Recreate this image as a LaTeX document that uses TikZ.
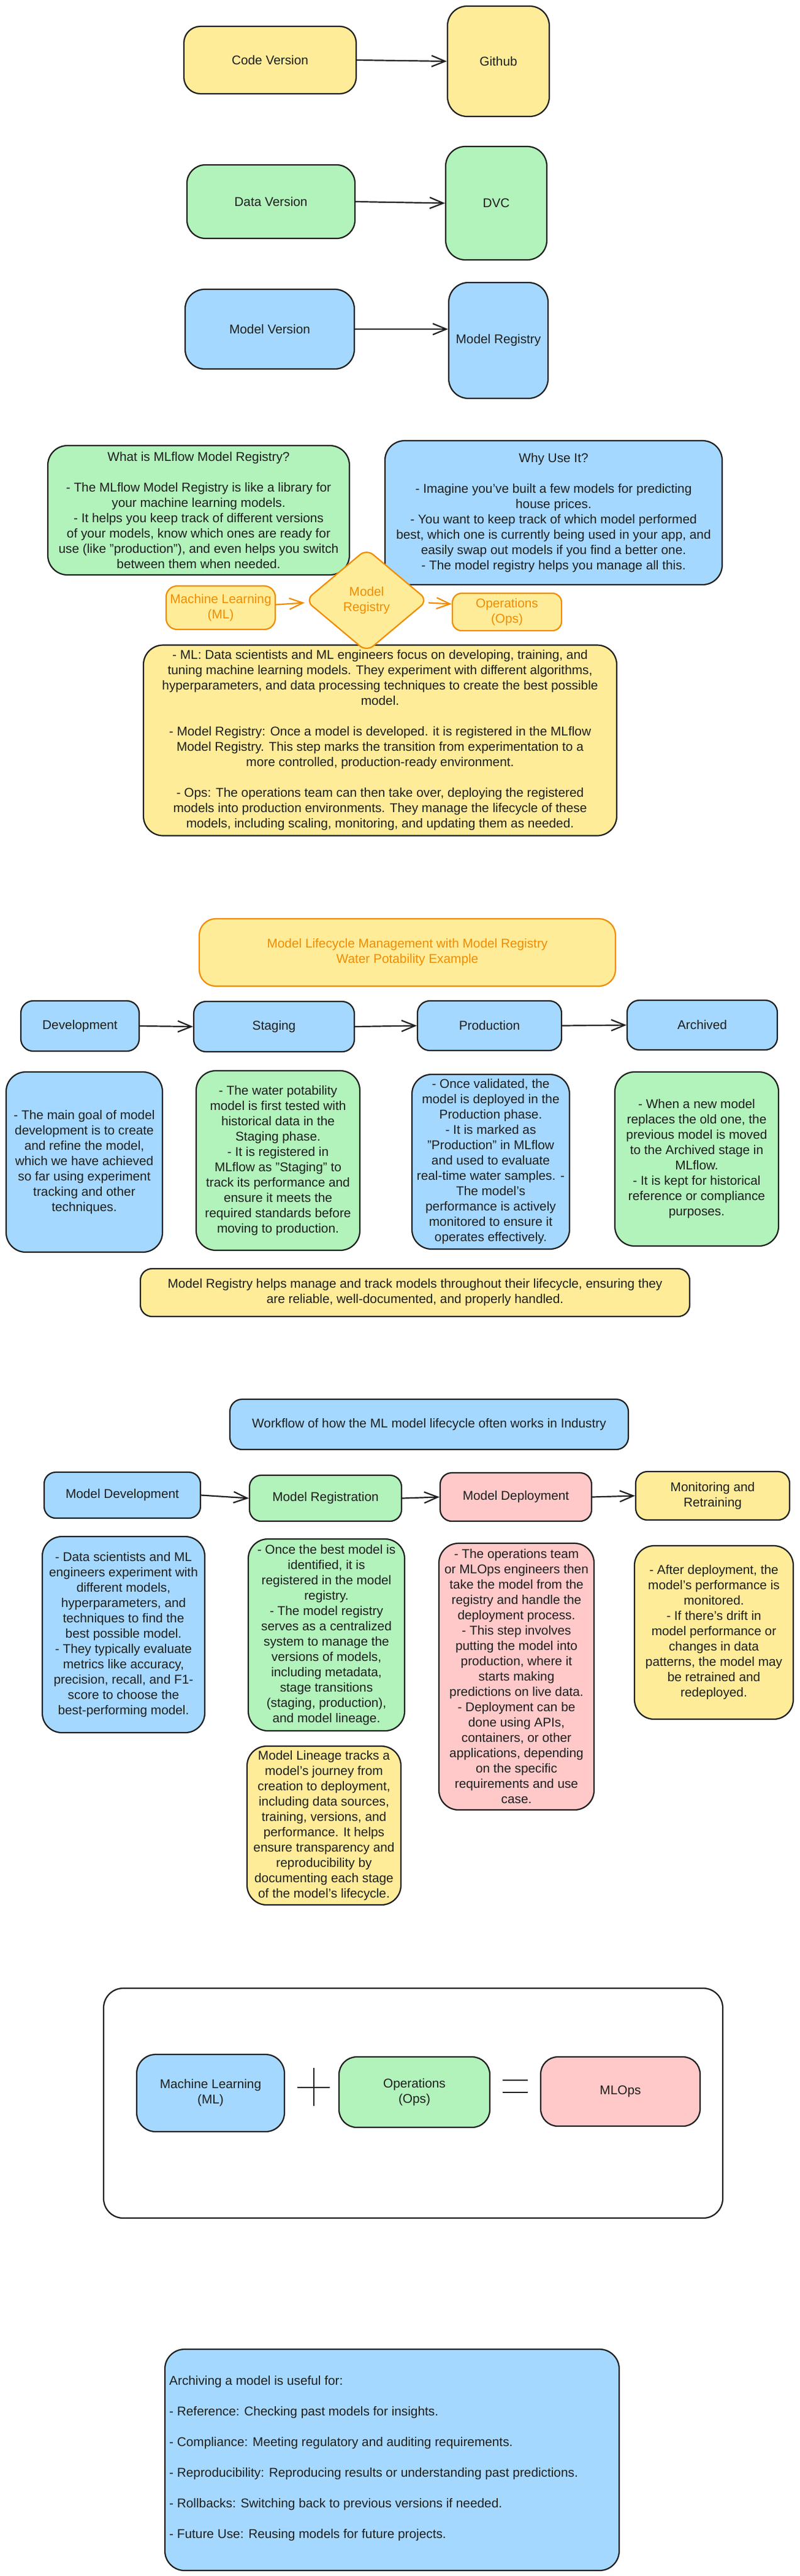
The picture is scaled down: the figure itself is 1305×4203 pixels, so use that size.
\documentclass[tikz,border=0pt]{standalone}
\usepackage{fontspec}
\setmainfont{Liberation Sans}
\usetikzlibrary{arrows.meta,shapes.geometric}
\definecolor{cyel}{HTML}{FFEC99}
\definecolor{cgrn}{HTML}{B2F2BB}
\definecolor{cblu}{HTML}{A5D8FF}
\definecolor{cpnk}{HTML}{FFC9C9}
\definecolor{corg}{HTML}{F08C00}
\definecolor{cink}{HTML}{1E1E1E}
\newcommand{\fs}{\fontsize{20.8}{25}\selectfont}
\begin{document}
\begin{tikzpicture}[x=1pt,y=-1pt,
  box/.style={draw=cink, line width=2.2pt, rounded corners=#1, align=center, inner sep=0pt, font=\fs, text=cink},
  box/.default=32pt,
  obox/.style={box=#1, draw=corg, text=corg},
  obox/.default=20pt,
  sz/.style 2 args={minimum width=#1pt, minimum height=#2pt},
  arr/.style={draw=cink, line width=2.2pt, -{Straight Barb[length=22pt,width=18pt]}},
  sign/.style={draw=cink, line width=2.6pt}
]
\useasboundingbox (0,0) rectangle (1305,4203);
\fill[white] (0,0) rectangle (1305,4203);

% ---------- Section 1: versioning ----------
\node[box=27pt, fill=cyel, sz={281}{110}] (code) at (440.5,98) {Code Version};
\node[box, fill=cyel, sz={166}{180}] (github) at (813,100) {Github};
\node[box=30pt, fill=cgrn, sz={274}{120}] (data) at (442,329) {Data Version};
\node[box, fill=cgrn, sz={165}{185}] (dvc) at (809.5,331.5) {DVC};
\node[box, fill=cblu, sz={276}{130}] (modelv) at (440,537) {Model Version};
\node[box, fill=cblu, sz={162}{189}] (registry) at (813,555.5) {Model Registry};
\draw[arr] (code.east) -- (github.west);
\draw[arr] (data.east) -- (dvc.west);
\draw[arr] (modelv.east) -- (modelv.east -| registry.west);

% ---------- Section 2: MLflow Model Registry ----------
\node[box, fill=cgrn, sz={492}{211}] (whatis) at (324,832.5) {What is MLflow Model Registry?\\[25pt]
- The MLflow Model Registry is like a library for\\
your machine learning models.\\
- It helps you keep track of different versions\\
of your models, know which ones are ready for\\
use (like "production"), and even helps you switch\\
between them when needed.};
\node[box, fill=cblu, sz={550}{235}] (whyuse) at (903,836.5) {Why Use It?\\[25pt]
- Imagine you've built a few models for predicting\\
house prices.\\
- You want to keep track of which model performed\\
best, which one is currently being used in your app, and\\
easily swap out models if you find a better one.\\
- The model registry helps you manage all this.};
\node[box, fill=cyel, sz={772}{311}] (bigyel) at (620,1208) {- ML: Data scientists and ML engineers focus on developing, training, and\\
tuning machine learning models. They experiment with different algorithms,\\
hyperparameters, and data processing techniques to create the best possible\\
model.\\[25pt]
- Model Registry: Once a model is developed. it is registered in the MLflow\\
Model Registry. This step marks the transition from experimentation to a\\
more controlled, production-ready environment.\\[25pt]
- Ops: The operations team can then take over, deploying the registered\\
models into production environments. They manage the lifecycle of these\\
models, including scaling, monitoring, and updating them as needed.};
\node[obox=18pt, fill=cyel, sz={178}{71}] (mlbox) at (360,991.5) {Machine Learning\\(ML)};
\node[obox=15pt, fill=cyel, sz={178}{61}] (opsbox) at (827,998.5) {Operations\\(Ops)};
\node[diamond, draw=corg, fill=cyel, line width=2.2pt, rounded corners=14pt, aspect=1.19,
      minimum width=200pt, minimum height=168pt, inner sep=0pt, align=center, font=\fs, text=corg]
      (diam) at (598,979.5) {Model\\Registry};
\draw[arr, draw=corg] ([yshift=5pt]mlbox.east) -- ([yshift=-4pt]diam.west);
\draw[arr, draw=corg] ([yshift=-4pt]diam.east) -- ([yshift=13pt]opsbox.west);

% ---------- Section 3: lifecycle management ----------
\node[obox=27pt, fill=cyel, sz={679}{110}] (lctitle) at (664.5,1554) {Model Lifecycle Management with Model Registry\\Water Potability Example};
\node[box=20pt, fill=cblu, sz={193}{82}] (dev) at (130.5,1674) {Development};
\node[box=20pt, fill=cblu, sz={262}{82}] (staging) at (447,1675) {Staging};
\node[box=20pt, fill=cblu, sz={235}{81}] (prod) at (798.5,1673.5) {Production};
\node[box=20pt, fill=cblu, sz={245}{81}] (archived) at (1145.5,1672.5) {Archived};
\draw[arr] (dev.east) -- (staging.west);
\draw[arr] (staging.east) -- (prod.west);
\draw[arr] (prod.east) -- (archived.west);
\node[box, fill=cblu, sz={255}{294}] (devdesc) at (137.5,1896) {- The main goal of model\\
development is to create\\
and refine the model,\\
which we have achieved\\
so far using experiment\\
tracking and other\\
techniques.};
\node[box, fill=cgrn, sz={267}{293}] (stagedesc) at (453.5,1893.5) {- The water potability\\
model is first tested with\\
historical data in the\\
Staging phase.\\
- It is registered in\\
MLflow as "Staging" to\\
track its performance and\\
ensure it meets the\\
required standards before\\
moving to production.};
\node[box, fill=cblu, sz={257}{285}] (proddesc) at (800.5,1895.5) {- Once validated, the\\
model is deployed in the\\
Production phase.\\
- It is marked as\\
"Production" in MLflow\\
and used to evaluate\\
real-time water samples. -\\
The model's\\
performance is actively\\
monitored to ensure it\\
operates effectively.};
\node[box, fill=cgrn, sz={267}{284}] (archdesc) at (1136.5,1891) {- When a new model\\
replaces the old one, the\\
previous model is moved\\
to the Archived stage in\\
MLflow.\\
- It is kept for historical\\
reference or compliance\\
purposes.};
\node[box=19pt, fill=cyel, sz={896}{78}] (note) at (677,2109) {Model Registry helps manage and track models throughout their lifecycle, ensuring they\\
are reliable, well-documented, and properly handled.};

% ---------- Section 4: industry workflow ----------
\node[box=20pt, fill=cblu, sz={650}{82}] (wftitle) at (700,2324) {Workflow of how the ML model lifecycle often works in Industry};
\node[box=19pt, fill=cblu, sz={255}{75}] (mdev) at (199.5,2439.5) {Model Development};
\node[box=19pt, fill=cgrn, sz={248}{75}] (mreg) at (531,2444.5) {Model Registration};
\node[box=19pt, fill=cpnk, sz={247}{79}] (mdep) at (841.5,2442.5) {Model Deployment};
\node[box=19pt, fill=cyel, sz={251}{79}] (mon) at (1162.5,2440.5) {Monitoring and\\Retraining};
\draw[arr] (mdev.east) -- (mreg.west);
\draw[arr] (mreg.east) -- (mdep.west);
\draw[arr] (mdep.east) -- (mon.west);
\node[box, fill=cblu, sz={265}{320}] (mdevdesc) at (201.5,2667) {- Data scientists and ML\\
engineers experiment with\\
different models,\\
hyperparameters, and\\
techniques to find the\\
best possible model.\\
- They typically evaluate\\
metrics like accuracy,\\
precision, recall, and F1-\\
score to choose the\\
best-performing model.};
\node[box, fill=cgrn, sz={255}{313}] (mregdesc) at (532.5,2667.5) {- Once the best model is\\
identified, it is\\
registered in the model\\
registry.\\
- The model registry\\
serves as a centralized\\
system to manage the\\
versions of models,\\
including metadata,\\
stage transitions\\
(staging, production),\\
and model lineage.};
\node[box, fill=cyel, sz={251}{259}] (lineage) at (528.5,2978.5) {Model Lineage tracks a\\
model's journey from\\
creation to deployment,\\
including data sources,\\
training, versions, and\\
performance. It helps\\
ensure transparency and\\
reproducibility by\\
documenting each stage\\
of the model's lifecycle.};
\node[box, fill=cpnk, sz={253}{435}] (mdepdesc) at (842.5,2735.5) {- The operations team\\
or MLOps engineers then\\
take the model from the\\
registry and handle the\\
deployment process.\\
- This step involves\\
putting the model into\\
production, where it\\
starts making\\
predictions on live data.\\
- Deployment can be\\
done using APIs,\\
containers, or other\\
applications, depending\\
on the specific\\
requirements and use\\
case.};
\node[box, fill=cyel, sz={259}{283}] (mondesc) at (1164.5,2663.5) {- After deployment, the\\
model's performance is\\
monitored.\\
- If there's drift in\\
model performance or\\
changes in data\\
patterns, the model may\\
be retrained and\\
redeployed.};

% ---------- Section 5: MLOps equation ----------
\node[box, fill=white, sz={1010}{375}] (frame) at (674,3431.5) {};
\node[box=31pt, fill=cblu, sz={241}{126}] (ml2) at (343.5,3415) {Machine Learning\\(ML)};
\node[box=29pt, fill=cgrn, sz={246}{115}] (ops2) at (676,3413.5) {Operations\\(Ops)};
\node[box=28pt, fill=cpnk, sz={260}{113}] (mlops) at (1012,3412.5) {MLOps};
\draw[sign] (512,3374) -- (512,3436) (485,3406) -- (538,3406);
\draw[sign] (820,3394) -- (861,3394) (820,3414) -- (861,3414);

% ---------- Section 6: archiving ----------
\node[box, fill=cblu, sz={741}{361}] (archive) at (639.5,4013.5) {};
\node[anchor=west, align=left, inner sep=0pt, font=\fs, text=cink] (archtext) at (276,4011.5) {Archiving a model is useful for:\\[25pt]
- Reference: Checking past models for insights.\\[25pt]
- Compliance: Meeting regulatory and auditing requirements.\\[25pt]
- Reproducibility: Reproducing results or understanding past predictions.\\[25pt]
- Rollbacks: Switching back to previous versions if needed.\\[25pt]
- Future Use: Reusing models for future projects.};
\end{tikzpicture}
\end{document}
